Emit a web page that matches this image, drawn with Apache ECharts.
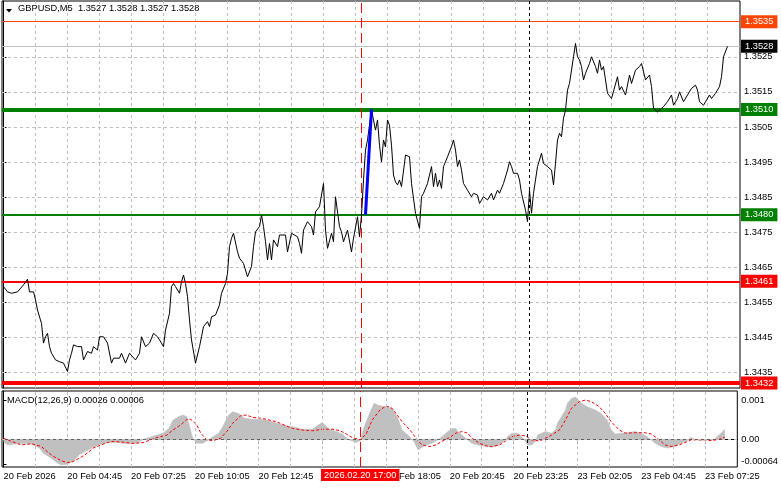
<!DOCTYPE html>
<html><head><meta charset="utf-8">
<script src="https://cdn.jsdelivr.net/npm/echarts@6/dist/echarts.min.js"></script>
<style>html,body{margin:0;padding:0;background:#fff}#c{width:781px;height:489px}</style>
</head><body><div id="c"></div>
<script>
// ---------------- DATA ----------------
const symbolName = 'GBPUSD', timeframe = 'M5';
const ohlc = [1.3527, 1.3528, 1.3527, 1.3528];
// bar index (5-minute bars from 20 Feb 02:05) and close price
const closeByBar = [
[0,1.34595],[2,1.34580],[4,1.34576],[5,1.34571],[7,1.34580],[8,1.34585],[10,1.34600],[12,1.34616],[13,1.34580],[14,1.34576],
[15,1.34580],[16,1.34557],[17,1.34528],[19,1.34490],[20,1.34434],[21,1.34452],[22,1.34462],[23,1.34424],[24,1.34405],[26,1.34386],
[28,1.34381],[30,1.34377],[32,1.34353],[33,1.34386],[34,1.34405],[35,1.34429],[37,1.34424],[39,1.34424],[40,1.34386],[42,1.34410],
[44,1.34405],[45,1.34424],[47,1.34414],[48,1.34452],[50,1.34452],[52,1.34434],[54,1.34377],[55,1.34391],[58,1.34391],[59,1.34405],
[61,1.34377],[63,1.34405],[64,1.34410],[66,1.34386],[68,1.34405],[69,1.34452],[71,1.34424],[73,1.34434],[75,1.34462],[77,1.34452],
[78,1.34443],[80,1.34424],[81,1.34471],[83,1.34519],[84,1.34595],[85,1.34604],[86,1.34595],[87,1.34600],[88,1.34576],[89,1.34609],
[90,1.34628],[91,1.34604],[92,1.34566],[93,1.34500],[94,1.34443],[96,1.34377],[98,1.34424],[99,1.34452],[100,1.34481],[102,1.34495],
[103,1.34481],[104,1.34509],[106,1.34514],[108,1.34543],[109,1.34576],[111,1.34604],[112,1.34633],[113,1.34709],[114,1.34733],[115,1.34747],
[117,1.34694],[118,1.34676],[120,1.34661],[122,1.34623],[124,1.34652],[125,1.34709],[126,1.34751],[128,1.34766],[129,1.34799],[130,1.34766],
[131,1.34723],[132,1.34671],[133,1.34718],[134,1.34671],[135,1.34728],[137,1.34709],[138,1.34742],[141,1.34742],[142,1.34694],[144,1.34747],
[145,1.34751],[147,1.34737],[148,1.34718],[149,1.34690],[150,1.34756],[152,1.34780],[154,1.34766],[155,1.34742],[156,1.34808],[157,1.34804],
[158,1.34823],[160,1.34889],[161,1.34756],[162,1.34704],[164,1.34747],[165,1.34723],[166,1.34851],[168,1.34766],[169,1.34751],[170,1.34723],
[172,1.34756],[174,1.34694],[175,1.34733],[177,1.34794],[178,1.34737],[179,1.34799],[180,1.34899],[181,1.34984],[182,1.35013],[183,1.35055],
[184,1.35098],[185,1.35070],[186,1.35041],[187,1.35070],[188,1.34998],[189,1.34950],[190,1.35013],[191,1.34993],[192,1.35070],[193,1.35055],
[194,1.34998],[195,1.34913],[196,1.34893],[197,1.34885],[198,1.34899],[199,1.34880],[201,1.34970],[203,1.34965],[204,1.34889],[206,1.34804],
[208,1.34761],[209,1.34851],[210,1.34861],[212,1.34889],[214,1.34937],[215,1.34880],[216,1.34918],[217,1.34880],[218,1.34899],[219,1.34875],
[220,1.34937],[221,1.34932],[222,1.34965],[224,1.34994],[225,1.35013],[226,1.34984],[227,1.34937],[228,1.34956],[229,1.34927],[230,1.34889],
[232,1.34870],[234,1.34851],[235,1.34861],[237,1.34856],[238,1.34832],[240,1.34851],[242,1.34842],[244,1.34861],[245,1.34842],[247,1.34870],
[248,1.34861],[250,1.34889],[252,1.34927],[253,1.34951],[254,1.34937],[255,1.34918],[257,1.34918],[258,1.34899],[259,1.34861],[260,1.34861],
[261,1.34813],[262,1.34780],[263,1.34870],[264,1.34804],[265,1.34861],[266,1.34899],[267,1.34937],[269,1.34975],[270,1.34946],[272,1.34937],
[274,1.34927],[275,1.34885],[276,1.34946],[277,1.35013],[278,1.35032],[279,1.35022],[280,1.35075],[281,1.35098],[282,1.35155],[283,1.35174],
[284,1.35212],[285,1.35250],[286,1.35288],[287,1.35250],[288,1.35241],[289,1.35222],[290,1.35184],[291,1.35203],[293,1.35231],[294,1.35250],
[295,1.35250],[296,1.35222],[297,1.35203],[298,1.35241],[299,1.35212],[300,1.35222],[302,1.35146],[304,1.35131],[305,1.35131],[307,1.35193],
[308,1.35155],[309,1.35165],[311,1.35141],[313,1.35198],[314,1.35174],[316,1.35212],[318,1.35222],[319,1.35231],[321,1.35184],[323,1.35198],
[324,1.35165],[325,1.35103],[327,1.35093],[328,1.35098],[330,1.35108],[332,1.35122],[334,1.35141],[335,1.35112],[337,1.35131],[338,1.35150],
[340,1.35122],[342,1.35141],[344,1.35160],[346,1.35169],[347,1.35155],[348,1.35122],[350,1.35112],[351,1.35117],[353,1.35141],[354,1.35131],
[356,1.35146],[358,1.35165],[359,1.35193],[360,1.35250],[362,1.35280]
];
// MACD main (histogram)
const macdHist = [
[0,-0.00005],[2,-0.00014],[7,-0.00011],[12,-0.00010],[15,-0.00014],[18,-0.00022],[20,-0.00035],[24,-0.00048],[27,-0.00060],[29,-0.00065],
[32,-0.00063],[35,-0.00056],[38,-0.00039],[42,-0.00028],[45,-0.00020],[48,-0.00014],[52,-0.00008],[57,-0.00008],[62,-0.00011],[67,-0.00010],
[70,0],[73,0.00005],[77,0.00011],[80,0.00016],[83,0.00028],[85,0.00049],[88,0.00058],[90,0.00062],[92,0.00058],[93,0.00041],
[95,0.00003],[97,-0.00010],[100,-0.00010],[103,-0.00001],[105,0.00007],[108,0.00016],[110,0.00032],[113,0.00062],[115,0.00070],[118,0.00066],
[121,0.00054],[125,0.00051],[130,0.00051],[135,0.00045],[140,0.00037],[145,0.00032],[150,0.00026],[155,0.00026],[158,0.00037],[160,0.00043],
[163,0.00028],[167,0.00020],[170,0.00014],[173,0],[177,-0.00008],[179,-0.00003],[181,0.00032],[184,0.00070],[186,0.00092],[188,0.00087],
[192,0.00083],[195,0.00079],[198,0.00054],[200,0.00024],[203,0.00011],[206,-0.00005],[208,-0.00027],[209,-0.00022],[212,-0.00014],[215,-0.00010],
[218,-0.00001],[220,0.00007],[223,0.00020],[225,0.00028],[227,0.00028],[228,0.00020],[232,0.00003],[235,-0.00010],[238,-0.00014],[242,-0.00018],
[245,-0.00020],[248,-0.00016],[251,-0.00005],[253,0.00007],[255,0.00016],[258,0.00016],[260,0.00007],[262,-0.00005],[263,-0.00014],[265,-0.00014],
[267,-0.00005],[268,0.00011],[272,0.00020],[275,0.00016],[277,0.00024],[278,0.00041],[280,0.00058],[282,0.00075],[283,0.00092],[285,0.00104],
[287,0.00108],[288,0.00104],[290,0.00092],[293,0.00083],[297,0.00075],[300,0.00066],[303,0.00049],[305,0.00024],[307,0.00014],[310,0.00016],
[313,0.00017],[317,0.00020],[320,0.00016],[323,0.00007],[325,-0.00001],[327,-0.00010],[330,-0.00018],[333,-0.00022],[337,-0.00018],[340,-0.00010],
[343,-0.00004],[345,0.00005],[347,0],[350,-0.00003],[353,-0.00001],[357,0],[358,0.00007],[360,0.00016],[362,0.00026]
];
// MACD signal line
const macdSignal = [
[0,0.00003],[4,-0.00005],[9,-0.00014],[14,-0.00011],[19,-0.00018],[22,-0.00031],[25,-0.00043],[29,-0.00054],[32,-0.00059],[35,-0.00056],
[39,-0.00045],[42,-0.00035],[45,-0.00022],[49,-0.00014],[52,-0.00008],[55,-0.00005],[60,-0.00007],[65,-0.00010],[70,-0.00008],[74,-0.00001],
[77,0.00005],[82,0.00011],[85,0.00024],[89,0.00037],[92,0.00051],[94,0.00051],[97,0.00037],[99,0.00016],[102,-0.00001],[105,-0.00003],
[109,0.00003],[112,0.00020],[115,0.00041],[119,0.00060],[122,0.00062],[125,0.00056],[129,0.00054],[132,0.00051],[137,0.00045],[142,0.00034],
[145,0.00028],[150,0.00024],[155,0.00022],[160,0.00026],[165,0.00026],[169,0.00022],[172,0.00014],[175,0.00005],[179,-0.00001],[182,0.00014],
[185,0.00049],[189,0.00075],[192,0.00085],[195,0.00079],[197,0.00066],[200,0.00045],[204,0.00024],[207,0.00003],[210,-0.00014],[214,-0.00018],
[217,-0.00014],[220,-0.00005],[224,0.00005],[227,0.00016],[230,0.00020],[233,0.00016],[235,0.00003],[239,-0.00010],[242,-0.00016],[245,-0.00018],
[249,-0.00014],[252,-0.00004],[255,0.00007],[259,0.00011],[262,0.00009],[265,-0.00001],[269,-0.00004],[272,0.00003],[275,0.00011],[279,0.00024],
[282,0.00049],[285,0.00079],[289,0.00096],[292,0.00100],[295,0.00096],[299,0.00083],[302,0.00066],[305,0.00045],[309,0.00024],[312,0.00016],
[317,0.00017],[322,0.00017],[325,0.00014],[329,-0.00001],[332,-0.00014],[335,-0.00018],[339,-0.00014],[342,-0.00008],[345,-0.00001],[349,-0.00001],
[352,-0.00001],[355,-0.00003],[359,0],[362,0.00006]
];
const macdParams = [12, 26, 9];
const macdLast = ['0.00026', '0.00006'];
// horizontal levels drawn on the chart
const levelPrices = [1.3535, 1.3510, 1.3480, 1.3461, 1.3432];
const currentPrice = 1.3528;
// blue trend segment (bar, price)
const blueBars = [181, 184];
const bluePrices = [1.3480, 1.3510];
// markers
const crossBar = 179, crossLabel = '2026.02.20 17:00';
const separatorBar = 263;
// axis ticks
const priceTicks = [1.3435,1.3445,1.3455,1.3465,1.3475,1.3485,1.3495,1.3505,1.3515,1.3525];
const priceGrid = [1.3435,1.3445,1.3455,1.3465,1.3475,1.3485,1.3495,1.3505,1.3515,1.3525,1.3535];
const xLabelBars = [0,32,64,96,128,160,192,224,256,288,320,352];
const xLabels = ['20 Feb 2026','20 Feb 04:45','20 Feb 07:25','20 Feb 10:05','20 Feb 12:45','20 Feb 15:25',
                 '20 Feb 18:05','20 Feb 20:45','20 Feb 23:25','23 Feb 02:05','23 Feb 04:45','23 Feb 07:25'];
const macdTicks = [0.001, 0, -0.00064];
const macdTickLabels = ['0.001', '0.00', '-0.00064'];

// ---------------- STYLE / LAYOUT ----------------
const FONT = 'Liberation Sans';
const FS = 9.3;
const levelStyles = [
  {color:'#ff4500', width:1}, {color:'#008000', width:4}, {color:'#008000', width:2},
  {color:'#ff0000', width:2}, {color:'#ff0000', width:4}
];
const gridDash = {color:'#c0c0c0', type:[3,3], width:1};
const vGridBars = [];
for (let b = 16; b < 368; b += 16) vGridBars.push(b);
const X_MIN = -0.75, X_MAX = 368.25;

function tagLabel(color, txt){
  return {show:true, position:'end', distance:1, formatter:txt, color:'#fff', backgroundColor:color,
          padding:[1,4,1,4], fontSize:FS, fontFamily:FONT, lineHeight:11};
}

const levelLines = levelPrices.map((p,i)=>({
  yAxis:p, lineStyle:{color:levelStyles[i].color, width:levelStyles[i].width, type:'solid'},
  label: tagLabel(levelStyles[i].color, p.toFixed(4))
}));
levelLines.push({yAxis:currentPrice, lineStyle:{color:'#c0c0c0', width:1, type:'solid'},
  label: tagLabel('#000', currentPrice.toFixed(4))});

const chart = echarts.init(document.getElementById('c'), null, {renderer:'canvas'});
const option = {
  animation:false,
  backgroundColor:'#fff',
  textStyle:{fontFamily:FONT},
  title:[
    {text: symbolName + ',' + timeframe + '  ' + ohlc.map(v=>v.toFixed(4)).join(' '), left:18, top:4, padding:0,
     textStyle:{fontSize:FS, fontWeight:'normal', color:'#000', fontFamily:FONT}},
    {text: 'MACD(' + macdParams.join(',') + ') ' + macdLast.join(' '), left:7, top:396, padding:0,
     textStyle:{fontSize:FS, fontWeight:'normal', color:'#000', fontFamily:FONT}}
  ],
  graphic:[{type:'polygon', shape:{points:[[6,9],[12,9],[9,12.5]]}, style:{fill:'#000'}}],
  grid:[
    {left:2, top:1, width:738, height:387, show:true, borderColor:'#000', borderWidth:1, backgroundColor:'#fff'},
    {left:2, top:391, width:738, height:76, show:true, borderColor:'#000', borderWidth:1, backgroundColor:'#fff'}
  ],
  xAxis:[
    {type:'value', gridIndex:0, min:X_MIN, max:X_MAX, show:false, splitLine:{show:false}},
    {type:'value', gridIndex:1, min:X_MIN, max:X_MAX,
     axisLine:{show:true, lineStyle:{color:'#000', width:1}},
     axisTick:{show:true, customValues:xLabelBars, length:4, lineStyle:{color:'#000'}},
     axisLabel:{show:true, customValues:xLabelBars, align:'left', margin:5, fontSize:FS, fontFamily:FONT, color:'#000',
                formatter:(v)=>{const i = xLabelBars.indexOf(Math.round(v)); return i>=0 ? xLabels[i] : '';}},
     splitLine:{show:false}}
  ],
  yAxis:[
    {type:'value', gridIndex:0, position:'right', min:1.34306, max:1.35409,
     axisLine:{show:true, lineStyle:{color:'#000', width:1}},
     axisTick:{show:true, customValues:priceTicks, length:3, lineStyle:{color:'#000'}},
     axisLabel:{show:true, customValues:priceTicks, margin:4, fontSize:FS, fontFamily:FONT, color:'#000',
                formatter:(v)=>v.toFixed(4)},
     splitLine:{show:false}},
    {type:'value', gridIndex:1, position:'right', min:-0.0007, max:0.00123,
     axisLine:{show:true, lineStyle:{color:'#000', width:1}},
     axisTick:{show:true, customValues:macdTicks, length:3, lineStyle:{color:'#000'}},
     axisLabel:{show:true, customValues:macdTicks, margin:4, fontSize:FS, fontFamily:FONT, color:'#000',
                formatter:(v)=>{
                  let best=0; for(let i=1;i<macdTicks.length;i++){ if(Math.abs(macdTicks[i]-v)<Math.abs(macdTicks[best]-v)) best=i; }
                  return best===2 ? '{n|'+macdTickLabels[best]+'}' : macdTickLabels[best];
                },
                rich:{n:{fontSize:FS, fontFamily:FONT, color:'#000', padding:[0,0,7,0]}}},
     splitLine:{show:false}}
  ],
  series:[
    {type:'line', name:'gridMain', xAxisIndex:0, yAxisIndex:0, data:[], z:1, silent:true,
     markLine:{silent:true, symbol:'none', precision:6, animation:false, label:{show:false}, lineStyle:gridDash,
       data: priceGrid.map(p=>({yAxis:p})).concat(vGridBars.map(b=>({xAxis:b})))}},
    {type:'line', name:'gridMacd', xAxisIndex:1, yAxisIndex:1, data:[], z:1, silent:true,
     markLine:{silent:true, symbol:'none', precision:6, animation:false, label:{show:false}, lineStyle:gridDash,
       data: [{yAxis:0}].concat(vGridBars.map(b=>({xAxis:b})))}},
    {type:'line', name:'MACD', xAxisIndex:1, yAxisIndex:1, data:macdHist, showSymbol:false, z:2,
     lineStyle:{color:'#c0c0c0', width:0.5}, areaStyle:{color:'#c0c0c0', opacity:1, origin:0}},
    {type:'line', name:'Signal', xAxisIndex:1, yAxisIndex:1, data:macdSignal, showSymbol:false, z:3,
     lineStyle:{color:'#ff0000', width:1, type:[3,2]}},
    {type:'line', name:'markMacd', xAxisIndex:1, yAxisIndex:1, data:[], z:10, silent:true, clip:false,
     markLine:{silent:true, symbol:'none', precision:6, animation:false,
       data:[
         {xAxis:crossBar, lineStyle:{color:'#ff0000', width:1, type:[10,5]},
          label:{show:true, position:'start', distance:2, formatter:crossLabel, color:'#fff', backgroundColor:'#ff0000',
                 padding:[2,3,1,3], fontSize:FS, fontFamily:FONT}},
         {xAxis:separatorBar, lineStyle:{color:'#000', width:1, type:[3,3]}, label:{show:false}}
       ]}},
    {type:'line', name:'levels', xAxisIndex:0, yAxisIndex:0, data:[], z:4, silent:true, clip:false,
     markLine:{silent:true, symbol:'none', precision:6, animation:false, data:levelLines}},
    {type:'line', name:'markMain', xAxisIndex:0, yAxisIndex:0, data:[], z:5, silent:true,
     markLine:{silent:true, symbol:'none', precision:6, animation:false, label:{show:false},
       data:[
         {xAxis:crossBar, lineStyle:{color:'#ff0000', width:1, type:[10,5]}},
         {xAxis:separatorBar, lineStyle:{color:'#000', width:1, type:[3,3]}}
       ]}},
    {type:'line', name:symbolName, xAxisIndex:0, yAxisIndex:0, data:closeByBar, showSymbol:false, z:6,
     lineStyle:{color:'#000', width:1}},
    {type:'line', name:'trend', xAxisIndex:0, yAxisIndex:0, data:blueBars.map((b,i)=>[b,bluePrices[i]]), showSymbol:false, z:7,
     lineStyle:{color:'#0000ff', width:3}}
  ]
};
chart.setOption(option);
</script>
</body></html>
